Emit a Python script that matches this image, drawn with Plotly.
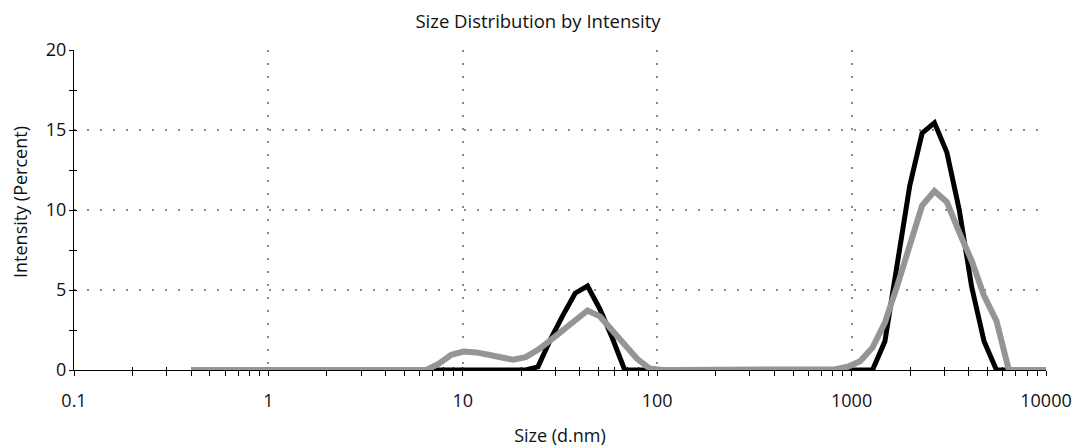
import plotly.graph_objects as go

# Size classes (d.nm), log-spaced from 0.4 to 10000 nm
sizes = [
    0.4, 0.4632, 0.5365, 0.6213, 0.7195, 0.8332, 0.9649, 1.117, 1.294, 1.499,
    1.736, 2.010, 2.328, 2.696, 3.122, 3.615, 4.187, 4.849, 5.615, 6.503,
    7.531, 8.721, 10.10, 11.70, 13.54, 15.69, 18.17, 21.04, 24.36, 28.21,
    32.67, 37.84, 43.82, 50.75, 58.77, 68.06, 78.82, 91.28, 105.7, 122.4,
    141.8, 164.2, 190.1, 220.2, 255.0, 295.3, 342.0, 396.1, 458.7, 531.2,
    615.1, 712.4, 825.0, 955.4, 1106, 1281, 1484, 1718, 1990, 2305,
    2669, 3091, 3580, 4145, 4801, 5560, 6439, 7456, 8635, 10000,
]

# Intensity (%) per size class, record 1 (black)
intensity_a = [
    0, 0, 0, 0, 0, 0, 0, 0, 0, 0,
    0, 0, 0, 0, 0, 0, 0, 0, 0, 0,
    0, 0, 0, 0, 0, 0, 0, 0, 0.2, 1.9,
    3.4, 4.8, 5.25, 3.8, 2.0, 0, 0, 0, 0, 0,
    0, 0, 0, 0, 0, 0, 0, 0, 0, 0,
    0, 0, 0, 0, 0, 0, 1.8, 6.5, 11.5, 14.8,
    15.45, 13.6, 10.0, 5.2, 1.8, 0, 0, 0, 0, 0,
]

# Intensity (%) per size class, record 2 (grey)
intensity_b = [
    0, 0, 0, 0, 0, 0, 0, 0, 0, 0,
    0, 0, 0, 0, 0, 0, 0, 0, 0, 0,
    0.4, 0.95, 1.15, 1.1, 0.95, 0.76, 0.64, 0.8, 1.26, 1.85,
    2.47, 3.2, 3.72, 3.35, 2.5, 1.64, 0.7, 0.1, 0, 0,
    0, 0, 0, 0, 0, 0, 0, 0, 0, 0,
    0, 0, 0.05, 0.2, 0.55, 1.4, 2.97, 5.27, 7.84, 10.28,
    11.18, 10.5, 8.6, 6.83, 4.64, 3.07, 0, 0, 0, 0,
]

x_major = [0.1, 1, 10, 100, 1000, 10000]
x_labels = ["0.1", "1", "10", "100", "1000", "10000"]
x_minor = [m * d for d in (0.1, 1, 10, 100, 1000) for m in range(2, 10)]
y_major = [0, 5, 10, 15, 20]
y_minor = [2.5, 7.5, 12.5, 17.5]

FONT = "Open Sans, Noto Sans, sans-serif"
W, H = 1076, 447
L, R, T, B = 74, 30, 50, 77
GRID = dict(showgrid=True, gridcolor="#8a8a8a", gridwidth=2, griddash="2px,11px")
OUT = dict(ticklen=5, tickwidth=1, tickcolor="black")
INN = dict(ticklen=3, tickwidth=1, tickcolor="black")
OUT_Y = dict(ticklen=4, tickwidth=1, tickcolor="black")

fig = go.Figure()
# Base subplot (x/y) carries the labelled axes, grid and outward ticks;
# the curves sit on the overlay subplot (x2/y2) so they cover the tick marks.
fig.add_trace(go.Scatter(x=[sizes[0]], y=[0], mode="markers",
                         marker=dict(opacity=0), hoverinfo="skip", showlegend=False))
fig.add_trace(go.Scatter(x=sizes, y=intensity_a, mode="lines", xaxis="x2", yaxis="y2",
                         line=dict(color="#000000", width=5), showlegend=False))
fig.add_trace(go.Scatter(x=sizes, y=intensity_b, mode="lines", xaxis="x2", yaxis="y2",
                         line=dict(color="#959595", width=6), showlegend=False))

fig.update_layout(
    width=W, height=H,
    margin=dict(l=L, r=R, t=T, b=B, autoexpand=False),
    paper_bgcolor="white", plot_bgcolor="white",
    font=dict(family=FONT, color="#111111"),
    title=dict(text="Size Distribution by Intensity", x=0.5, xanchor="center",
               y=1 - 22 / H, yanchor="middle", font=dict(size=18.5, family=FONT)),
    xaxis=dict(
        type="log", range=[-1, 4], tickmode="array", tickvals=x_major, ticktext=x_labels,
        ticks="outside", **OUT, automargin=False, layer="below traces",
        showline=True, linecolor="black", linewidth=1, zeroline=False,
        tickfont=dict(size=18), ticklabelstandoff=9,
        minor=dict(tickmode="array", tickvals=x_minor, ticks="outside", **OUT, showgrid=False),
        title=dict(text="Size (d.nm)", font=dict(size=18), standoff=20),
        **GRID,
    ),
    xaxis2=dict(
        type="log", range=[-1, 4], overlaying="x", anchor="y2", side="bottom",
        tickmode="array", tickvals=x_major, showticklabels=False,
        ticks="inside", **INN, automargin=False, layer="below traces",
        showgrid=False, showline=False, zeroline=False,
        minor=dict(tickmode="array", tickvals=x_minor, ticks="inside", **INN, showgrid=False),
    ),
    yaxis=dict(
        range=[0, 20], tickmode="array", tickvals=y_major,
        ticks="inside", **INN, automargin=False, layer="below traces",
        showline=True, linecolor="black", linewidth=1, zeroline=False,
        tickfont=dict(size=18), ticklabelstandoff=3,
        minor=dict(tickmode="array", tickvals=y_minor, ticks="inside", **INN, showgrid=False),
        **GRID,
    ),
    yaxis2=dict(
        range=[0, 20], overlaying="y", anchor="x2", side="left",
        tickmode="array", tickvals=y_major, showticklabels=False,
        ticks="outside", **OUT_Y, automargin=False, layer="below traces",
        showgrid=False, showline=False, zeroline=False,
        minor=dict(tickmode="array", tickvals=y_minor, ticks="outside", **OUT_Y, showgrid=False),
    ),
    annotations=[dict(
        text="Intensity (Percent)", textangle=-90, showarrow=False,
        xref="paper", yref="paper",
        x=(20 - L) / (W - L - R), y=(H - B - 202) / (H - B - T),
        xanchor="center", yanchor="middle", font=dict(size=18),
    )],
)

fig.write_html("out.html")
